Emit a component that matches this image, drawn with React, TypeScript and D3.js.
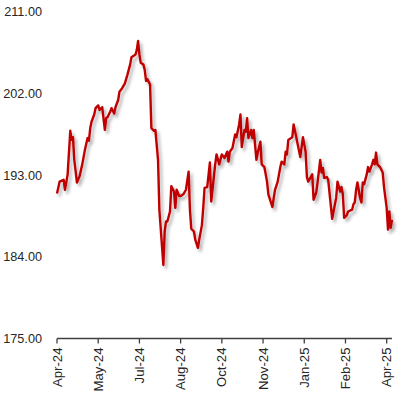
import React from "react";
import * as d3 from "d3";

// trading-day index of each traced point (0 = first day, 252 = last)
const days = [
  0, 2, 5, 6, 8, 10, 11, 12, 13, 15, 17, 19, 21, 23, 24, 25, 26, 28, 29, 31,
  32, 34, 36, 37, 38, 40, 41, 43, 44, 46, 47, 49, 51, 53, 55, 56, 58, 59, 60, 61,
  62, 63, 65, 66, 67, 68, 70, 71, 73, 74, 76, 77, 80, 81, 82, 83, 85, 86, 88, 89,
  90, 92, 93, 95, 97, 99, 100, 101, 103, 104, 106, 107, 109, 110, 111, 113, 115, 116, 119, 120,
  122, 124, 126, 128, 129, 130, 132, 134, 135, 137, 138, 139, 141, 142, 143, 144, 146, 147, 148, 150,
  151, 153, 154, 156, 158, 159, 162, 164, 166, 168, 169, 171, 172, 173, 174, 177, 178, 180, 183, 185,
  187, 188, 189, 192, 193, 195, 196, 198, 199, 200, 201, 203, 204, 207, 208, 210, 211, 213, 214, 215,
  216, 218, 219, 222, 223, 224, 225, 226, 228, 229, 230, 231, 233, 234, 235, 237, 238, 239, 240, 241,
  243, 245, 246, 248, 249, 250, 251, 252,
];

const prices = [
  191.0, 192.3, 192.5, 191.4, 193.1, 197.9, 196.9, 197.2, 194.7, 192.2, 192.9, 194.2, 195.8, 197.1, 196.8, 198.2, 198.9, 199.7, 200.4, 200.7,
  200.2, 200.5, 198.0, 199.3, 199.4, 200.0, 200.4, 199.8, 200.5, 201.3, 202.2, 202.6, 203.1, 204.1, 205.2, 206.0, 206.2, 206.3, 206.8, 207.8,
  206.3, 205.4, 205.2, 204.6, 203.4, 203.6, 203.0, 198.2, 197.9, 198.0, 194.7, 189.2, 183.1, 186.8, 187.9, 187.9, 189.0, 191.8, 191.2, 189.4,
  191.4, 190.7, 190.7, 190.9, 191.4, 193.4, 189.2, 187.1, 186.8, 185.9, 185.0, 185.9, 187.5, 189.4, 191.6, 191.7, 194.4, 190.1, 194.2, 195.3,
  194.2, 195.3, 194.9, 195.6, 194.5, 195.6, 196.0, 197.5, 197.2, 198.6, 199.7, 196.1, 198.0, 197.8, 199.3, 197.1, 198.0, 197.1, 198.0, 194.7,
  195.5, 196.7, 194.2, 193.9, 192.3, 190.9, 189.5, 191.4, 192.3, 193.9, 194.5, 194.2, 195.6, 195.3, 196.9, 197.2, 198.6, 197.2, 195.0, 197.2,
  195.6, 192.8, 192.3, 193.1, 190.3, 191.1, 192.2, 194.7, 193.3, 193.8, 192.7, 192.8, 192.5, 188.2, 189.0, 190.5, 192.3, 191.2, 191.7, 190.9,
  188.3, 188.6, 189.0, 189.2, 189.8, 190.0, 191.4, 192.2, 190.5, 190.0, 192.2, 192.0, 193.1, 193.9, 193.4, 194.2, 194.7, 194.2, 195.5, 194.2,
  193.9, 193.3, 191.7, 189.4, 187.0, 189.0, 187.2, 188.1,
];

const tickLabels = ["Apr-24", "May-24", "Jul-24", "Aug-24", "Oct-24", "Nov-24", "Jan-25", "Feb-25", "Apr-25"];
const tickDays = [0, 31, 62, 93, 124, 155, 186, 217, 248];
const yTicks = [175, 184, 193, 202, 211];

const W = 398;
const H = 394;

export default function App() {
  const x = d3.scaleLinear().domain([0, 252]).range([57, 392]);
  const y = d3.scaleLinear().domain([175, 211]).range([338.5, 12]);

  const pts = days.map((d, i) => [d, prices[i]] as [number, number]);
  const line = d3
    .line<[number, number]>()
    .x((d) => x(d[0]))
    .y((d) => y(d[1]));

  const font = "'Liberation Sans', Arial, sans-serif";
  const axisColor = "#404040";

  return (
    <svg
      width={W}
      height={H}
      style={{ position: "absolute", left: 0, top: 0, background: "#fff" }}
    >
      <defs>
        <filter id="shadow" x="-10%" y="-10%" width="120%" height="120%">
          <feDropShadow dx="2.5" dy="3" stdDeviation="1.6" floodColor="#000" floodOpacity="0.3" />
        </filter>
      </defs>

      {/* y labels */}
      {yTicks.map((t) => (
        <text
          key={t}
          x={42}
          y={y(t)}
          dy="0.35em"
          textAnchor="end"
          fontFamily={font}
          fontSize={12.7}
          fill="#262626"
        >
          {t.toFixed(2)}
        </text>
      ))}

      {/* x axis */}
      <line x1={x(0)} x2={x(252)} y1={y(175)} y2={y(175)} stroke={axisColor} strokeWidth={1.3} />
      {tickDays.map((d, i) => (
        <g key={d} transform={`translate(${x(d)},${y(175)})`}>
          <line y1={0} y2={5} stroke={axisColor} strokeWidth={1.3} />
          <text
            transform="translate(0,9) rotate(-90)"
            dy="0.35em"
            textAnchor="end"
            fontFamily={font}
            fontSize={13.2}
            fill="#262626"
          >
            {tickLabels[i]}
          </text>
        </g>
      ))}

      <path
        d={line(pts) ?? ""}
        fill="none"
        stroke="#C00000"
        strokeWidth={2.4}
        strokeLinejoin="round"
        filter="url(#shadow)"
      />
    </svg>
  );
}
